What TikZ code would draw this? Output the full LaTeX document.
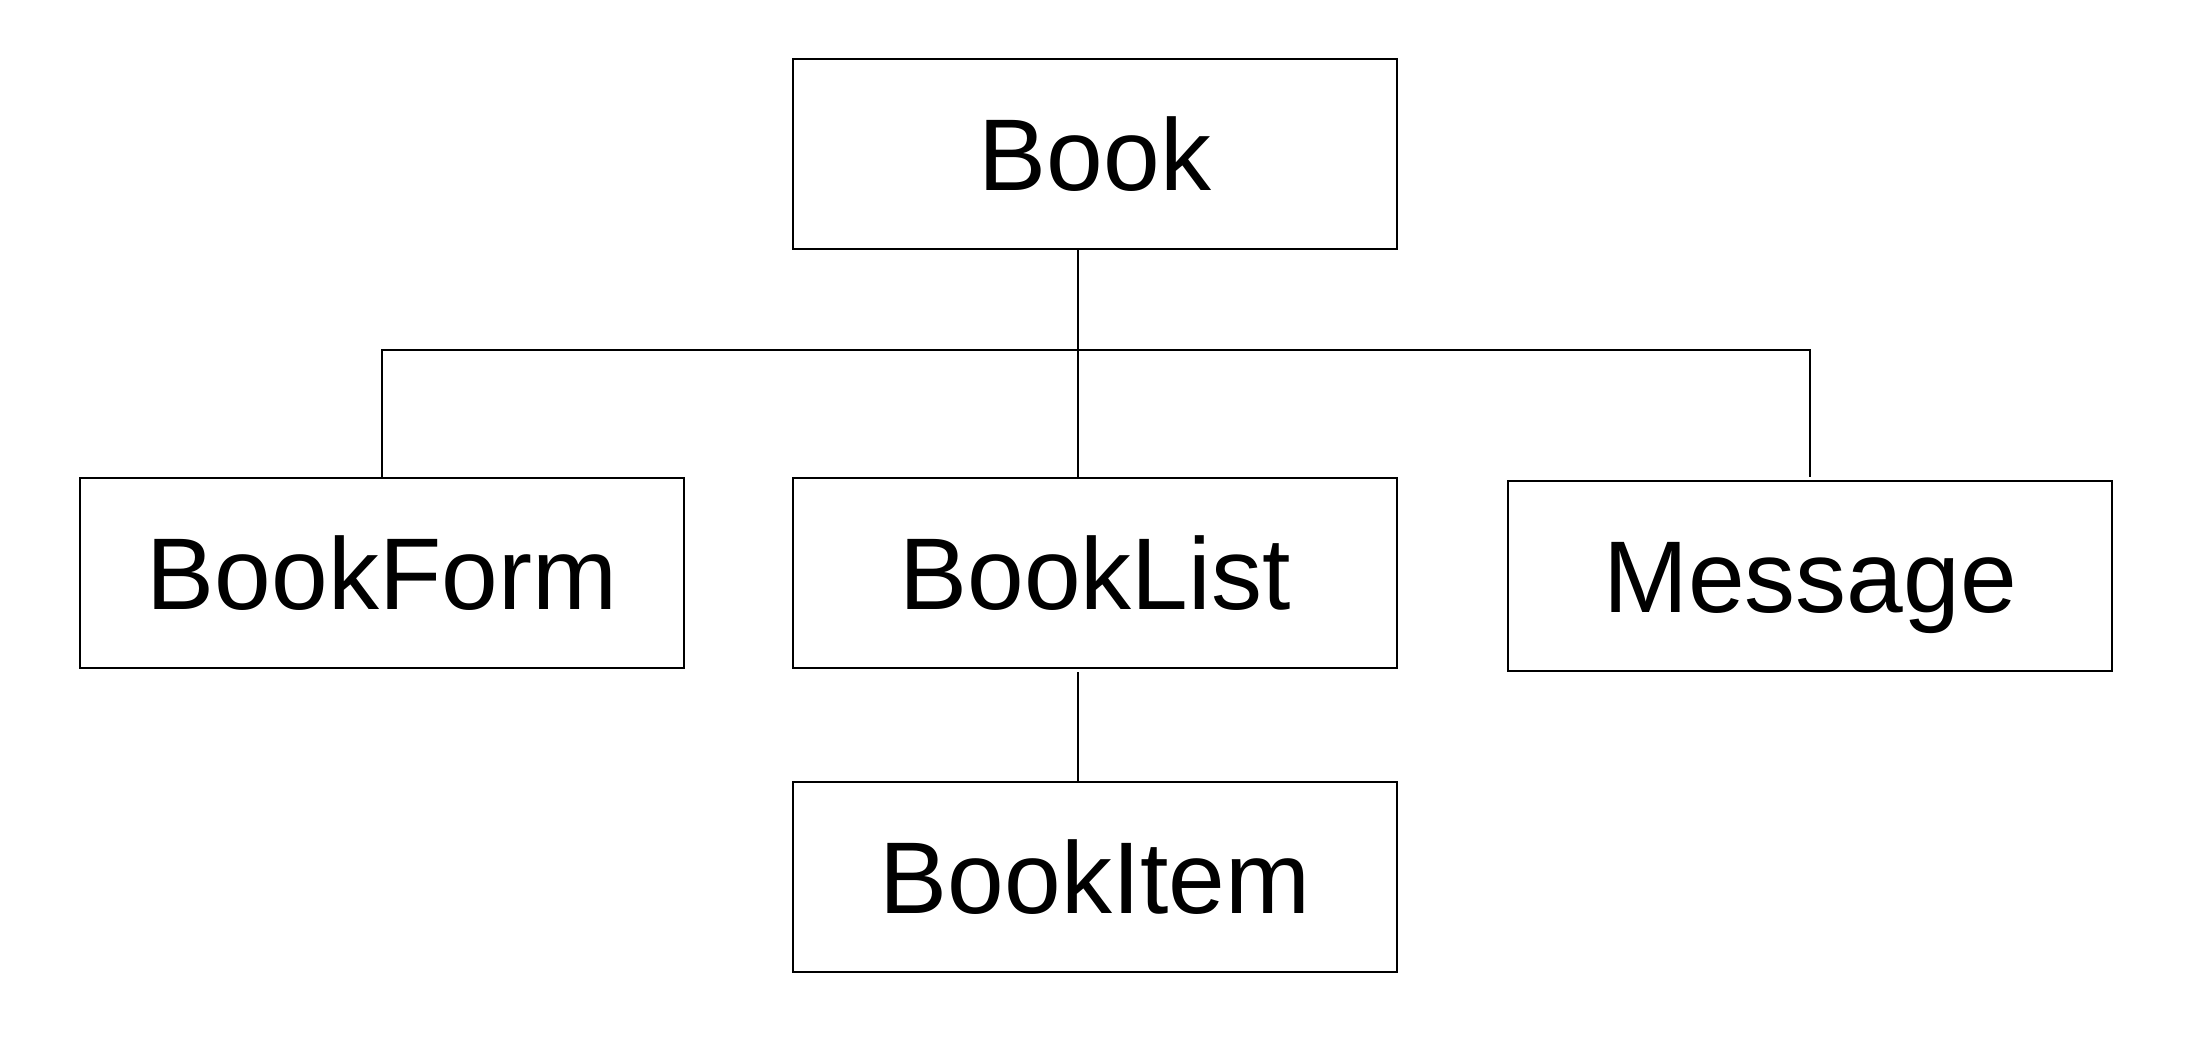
\documentclass[tikz,border=0pt]{standalone}
\usepackage{fontspec}
\setmainfont{Liberation Sans}
\usepackage{tikz}
\usetikzlibrary{positioning}

\begin{document}
\begin{tikzpicture}[
    compbox/.style={draw, line width=0.6pt, minimum width=6.04cm,
        minimum height=1.90cm, inner sep=0pt, text height=20.8pt,
        text depth=0pt, font=\fontsize{29}{34}\selectfont},
    link/.style={line width=0.6pt},
]
\useasboundingbox (0,0) rectangle (21.90,-10.58);

% Component boxes
\node[compbox] (book) at (10.95,-1.54) {Book};
\node[compbox, below=2.27cm of book] (booklist) {BookList};
\node[compbox, left=1.07cm of booklist] (bookform) {BookForm};
\node[compbox, right=1.09cm of booklist, yshift=-0.03cm] (message) {Message};
\node[compbox, below=1.12cm of booklist] (bookitem) {BookItem};

% Tree connectors
\coordinate (hub) at ([xshift=-0.17cm]book.south);
\draw[link] (hub) -- (hub |- booklist.north);
\draw[link] (bookform.north) -- ++(0,1.27) -| ([yshift=0.03cm]message.north);
\draw[link] ([yshift=-0.03cm]hub |- booklist.south) -- (hub |- bookitem.north);

\end{tikzpicture}
\end{document}
